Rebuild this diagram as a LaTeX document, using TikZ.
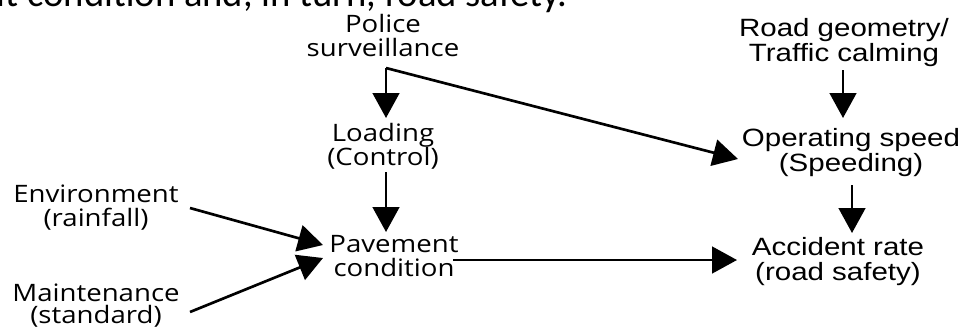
\documentclass[tikz,border=0pt]{standalone}
\usepackage{fontspec}
\usetikzlibrary{arrows.meta}
\newfontfamily\lfont[FakeStretch=1.15]{Open Sans}
\newfontfamily\rfont[FakeStretch=1.18]{Liberation Sans}
\newfontfamily\cfont{Carlito}
\begin{document}
\begin{tikzpicture}[x=0.75pt,y=-0.75pt,
  lbl/.style={inner sep=0pt, anchor=north, align=center, font=\lfont\fontsize{18}{18}\selectfont},
  rlbl/.style={inner sep=0pt, anchor=north, align=center, font=\rfont\fontsize{18.75}{18.75}\selectfont},
  arr/.style={line width=2pt, -{Triangle[length=18.75pt,width=20pt]}}]
\useasboundingbox (0,0) rectangle (962,330);
\clip (0,0) rectangle (962,330);
% clipped caption line at top
\node[anchor=base west, inner sep=0pt, font={\cfont\fontsize{29}{34}\selectfont}] (caption) at (-3.5,6) {it condition and, in turn, road safety.};
% labels
\node[lbl] (police) at (383,14) {Police\\surveillance};
\node[lbl] (loading) at (383,123) {Loading\\(Control)};
\node[lbl] (pave) at (394,235) {Pavement\\condition};
\node[lbl] (env) at (96,185) {Environment\\(rainfall)};
\node[lbl, font={\lfont\fontsize{18}{16.5}\selectfont}] (maint) at (96,284) {Maintenance\\(standard)};
\node[rlbl] (road) at (844,18) {Road geometry/\\Traffic calming};
\node[rlbl] (oper) at (851,128) {Operating speed\\(Speeding)};
\node[rlbl] (acc) at (838,237) {Accident rate\\(road safety)};
% connector end points
\coordinate (policeOut) at (386,68);
\coordinate (loadingIn) at (386,118);
\coordinate (operIn) at (738,159);
\coordinate (loadingOut) at (386,172);
\coordinate (paveInTop) at (386,232);
\coordinate (envOut) at (190,208);
\coordinate (paveInEnv) at (323,245);
\coordinate (maintOut) at (190,312);
\coordinate (paveInMaint) at (323,258);
\coordinate (paveOut) at (453,260);
\coordinate (accInLeft) at (737,260);
\coordinate (roadOut) at (843,70);
\coordinate (operInTop) at (843,118);
\coordinate (operOut) at (852,185);
\coordinate (accInTop) at (852,233);
% connectors
\draw[arr] (policeOut) -- (loadingIn);
\draw[arr] (policeOut) -- (operIn);
\draw[arr] (loadingOut) -- (paveInTop);
\draw[arr] (envOut) -- (paveInEnv);
\draw[arr] (maintOut) -- (paveInMaint);
\draw[arr] (paveOut) -- (accInLeft);
\draw[arr] (roadOut) -- (operInTop);
\draw[arr] (operOut) -- (accInTop);
\end{tikzpicture}
\end{document}
